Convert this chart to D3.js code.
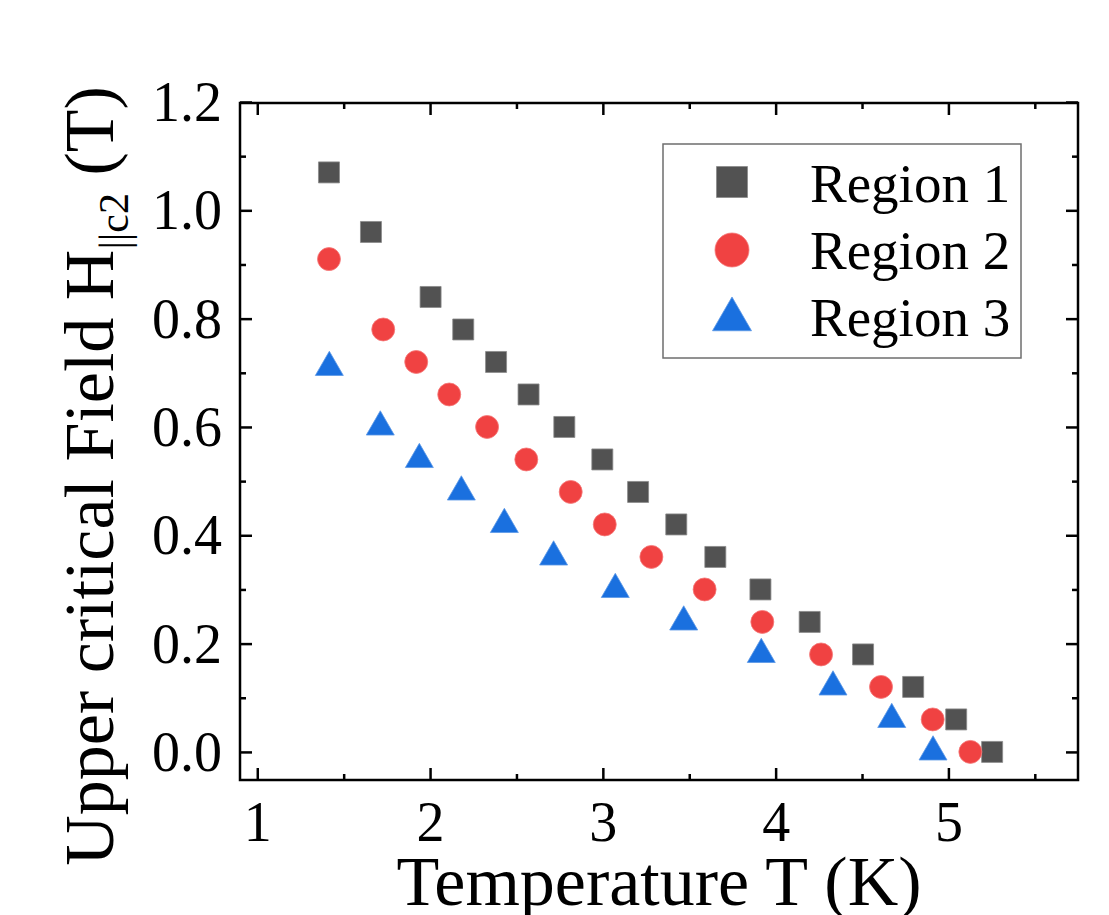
<!DOCTYPE html>
<html>
<head>
<meta charset="utf-8">
<script src="https://cdn.jsdelivr.net/npm/d3@7"></script>
<style>
  body { margin: 0; background: #fff; }
  text { font-family: "Liberation Serif", "Times New Roman", serif; fill: #000; }
</style>
</head>
<body>
<svg id="chart"></svg>
<script>
// data
const region1T = [1.415, 1.658, 2.003, 2.192, 2.382, 2.570, 2.777, 2.997, 3.204, 3.425, 3.651, 3.912, 4.197, 4.506, 4.796, 5.045, 5.253];
const region1H = [1.07, 0.96, 0.84, 0.78, 0.72, 0.66, 0.60, 0.54, 0.48, 0.42, 0.36, 0.30, 0.24, 0.18, 0.12, 0.06, 0.0];
const region2T = [1.415, 1.729, 1.920, 2.111, 2.330, 2.557, 2.814, 3.011, 3.281, 3.589, 3.923, 4.263, 4.610, 4.909, 5.127];
const region2H = [0.91, 0.78, 0.72, 0.66, 0.60, 0.54, 0.48, 0.42, 0.36, 0.30, 0.24, 0.18, 0.12, 0.06, 0.0];
const region3T = [1.417, 1.712, 1.938, 2.181, 2.430, 2.715, 3.072, 3.468, 3.917, 4.332, 4.672, 4.911];
const region3H = [0.71, 0.60, 0.54, 0.48, 0.42, 0.36, 0.30, 0.24, 0.18, 0.12, 0.06, 0.0];

const seriesNames = ["Region 1", "Region 2", "Region 3"];
const xMajor = [1, 2, 3, 4, 5];
const xMinor = [1.5, 2.5, 3.5, 4.5, 5.5];
const yMajor = [0, 0.2, 0.4, 0.6, 0.8, 1.0, 1.2];
const yMinor = [0.1, 0.3, 0.5, 0.7, 0.9, 1.1];

const WIDTH = 1109;
const HEIGHT = 915;
const MARGIN = { top: 103, bottom: 135, left: 240, right: 31 };

const svg = d3.select("#chart")
  .attr("width", WIDTH)
  .attr("height", HEIGHT);

const x = d3.scaleLinear()
  .domain([0.9, 5.75])
  .range([MARGIN.left, WIDTH - MARGIN.right]);

const y = d3.scaleLinear()
  .domain([-0.05, 1.2])
  .range([HEIGHT - MARGIN.bottom - 1, MARGIN.top - 1]);

const x0 = MARGIN.left, x1 = WIDTH - MARGIN.right;
const y0 = MARGIN.top, y1 = HEIGHT - MARGIN.bottom;

const MAJOR = 12, MINOR = 6, LW = 2.5;

function styleAxis(g) {
  g.select(".domain").remove();
  g.selectAll("line").attr("stroke", "#000").attr("stroke-width", LW);
}

// bottom
svg.append("g").attr("transform", `translate(0,${y1})`)
  .call(d3.axisBottom(x).tickValues(xMajor).tickSize(-MAJOR).tickFormat(d3.format("d")))
  .call(styleAxis)
  .selectAll("text").attr("y", 61).attr("dy", 0).attr("font-size", 56);
svg.append("g").attr("transform", `translate(0,${y1})`)
  .call(d3.axisBottom(x).tickValues(xMinor).tickSize(-MINOR).tickFormat(""))
  .call(styleAxis);
// top
svg.append("g").attr("transform", `translate(0,${y0})`)
  .call(d3.axisTop(x).tickValues(xMajor).tickSize(-MAJOR).tickFormat(""))
  .call(styleAxis);
svg.append("g").attr("transform", `translate(0,${y0})`)
  .call(d3.axisTop(x).tickValues(xMinor).tickSize(-MINOR).tickFormat(""))
  .call(styleAxis);
// left
svg.append("g").attr("transform", `translate(${x0},0)`)
  .call(d3.axisLeft(y).tickValues(yMajor).tickSize(-MAJOR).tickFormat(d3.format(".1f")))
  .call(styleAxis)
  .selectAll("text").attr("x", -18).attr("dy", "0.33em").attr("font-size", 56);
svg.append("g").attr("transform", `translate(${x0},0)`)
  .call(d3.axisLeft(y).tickValues(yMinor).tickSize(-MINOR).tickFormat(""))
  .call(styleAxis);
// right
svg.append("g").attr("transform", `translate(${x1},0)`)
  .call(d3.axisRight(y).tickValues(yMajor).tickSize(-MAJOR).tickFormat(""))
  .call(styleAxis);
svg.append("g").attr("transform", `translate(${x1},0)`)
  .call(d3.axisRight(y).tickValues(yMinor).tickSize(-MINOR).tickFormat(""))
  .call(styleAxis);

svg.append("rect")
  .attr("x", x0).attr("y", y0)
  .attr("width", x1 - x0).attr("height", y1 - y0)
  .attr("fill", "none").attr("stroke", "#000").attr("stroke-width", LW);

// series
const series = [
  { name: seriesNames[0], T: region1T, H: region1H, type: d3.symbolSquare, size: 441, fill: "#525252", edge: "#8a8a8a" },
  { name: seriesNames[1], T: region2T, H: region2H, type: d3.symbolCircle, size: 415, fill: "#f04242", edge: "#f57a7a" },
  { name: seriesNames[2], T: region3T, H: region3H, type: d3.symbolTriangle, size: 339, fill: "#1a70df", edge: "#5c98e6" }
];

series.forEach(s => {
  const sym = d3.symbol().type(s.type).size(s.size);
  svg.append("g")
    .selectAll("path")
    .data(s.T.map((t, i) => [t, s.H[i]]))
    .enter()
    .append("path")
    .attr("d", sym)
    .attr("transform", d => `translate(${x(d[0])},${y(d[1])})`)
    .attr("fill", s.fill)
    .attr("stroke", s.edge)
    .attr("stroke-width", 0.8);
});

// legend
const legend = svg.append("g");
legend.append("rect")
  .attr("x", 663).attr("y", 144)
  .attr("width", 358).attr("height", 214)
  .attr("fill", "#fff").attr("stroke", "#6e6e6e").attr("stroke-width", 1.5);

const legendSizes = [961, 908, 659];
const legendSymY = [182, 250, 319.5];
const legendTextY = [202, 269, 336];
series.forEach((s, i) => {
  legend.append("path")
    .attr("d", d3.symbol().type(s.type).size(legendSizes[i]))
    .attr("transform", `translate(732,${legendSymY[i]})`)
    .attr("fill", s.fill)
    .attr("stroke", s.edge)
    .attr("stroke-width", 0.8);
  legend.append("text")
    .attr("x", 810).attr("y", legendTextY[i])
    .attr("font-size", 55)
    .text(s.name);
});

// axis titles
svg.append("text")
  .attr("x", (x0 + x1) / 2).attr("y", 905)
  .attr("text-anchor", "middle")
  .attr("font-size", 70)
  .text("Temperature T (K)");

const yt = svg.append("text")
  .attr("transform", "translate(113,476) rotate(-90)")
  .attr("text-anchor", "middle")
  .attr("font-size", 70);
yt.append("tspan").text("Upper critical Field H");
yt.append("tspan").attr("font-size", 42).attr("dy", 15).text("||c2");
yt.append("tspan").attr("dy", -15).text(" (T)");
</script>
</body>
</html>
